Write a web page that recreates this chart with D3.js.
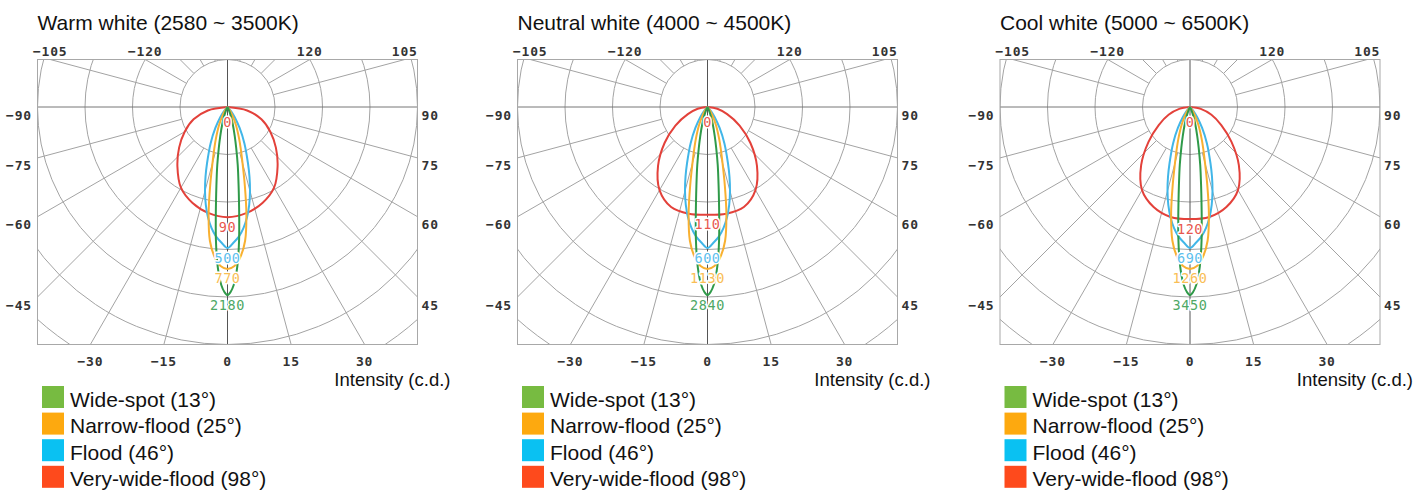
<!DOCTYPE html>
<html>
<head>
<meta charset="utf-8">
<script src="https://cdn.jsdelivr.net/npm/d3@7"></script>
<style>
  body { margin: 0; background: #fff; }
  svg text { font-family: "Liberation Sans", Arial, sans-serif; fill: #111; }
  svg text.tick { font-family: "DejaVu Sans Mono", monospace; font-size: 13px; font-weight: bold; letter-spacing: 0.8px; fill: #333; }
  svg text.val { font-family: "DejaVu Sans Mono", monospace; font-size: 13.5px; letter-spacing: 0.6px; stroke: #fff; stroke-width: 3px; paint-order: stroke; stroke-linejoin: round; }
</style>
</head>
<body>
<svg id="chart" width="1426" height="491"></svg>
<script>
// panel titles and legend entries
const panelTitles = ["Warm white (2580 ~ 3500K)", "Neutral white (4000 ~ 4500K)", "Cool white (5000 ~ 6500K)"];
const beamNames = ["Wide-spot (13°)", "Narrow-flood (25°)", "Flood (46°)", "Very-wide-flood (98°)"];
const legendColors = ["#77bb41", "#fda90f", "#0ac1f2", "#fe4a1c"];
const lineColors = ["#2f9a49", "#f8b031", "#41b6e8", "#e3413a"];
const labelColors = ["#4ea865", "#f9be55", "#5cc0ee", "#e8574f"];

// peak intensity (c.d.) for each beam, per panel
const warmPeaks = [2180, 770, 500, 90];
const neutralPeaks = [2840, 1130, 600, 110];
const coolPeaks = [3450, 1260, 690, 120];

// beam profiles: angle from nadir (deg) -> radius in grid rings
const spotAngles = [0, 1, 2, 3, 4, 5, 6, 7, 8, 10, 12, 14, 17, 20, 25, 30];
const spotRings = [3.96, 3.89, 3.75, 3.52, 3.20, 2.80, 2.36, 1.98, 1.68, 1.24, 0.88, 0.63, 0.38, 0.21, 0.06, 0];
const narrowAngles = [0, 2.5, 5, 7.5, 10, 12.5, 15, 17.5, 20, 25, 30, 35, 40];
const narrowRings = [3.41, 3.35, 3.16, 2.84, 2.29, 1.68, 1.22, 0.93, 0.72, 0.42, 0.21, 0.08, 0];
const floodAngles = [0, 2.5, 5, 7.5, 10, 12.5, 15, 17.5, 20, 25, 30, 35, 40, 45, 50];
const floodRings = [2.97, 2.86, 2.74, 2.57, 2.36, 2.11, 1.83, 1.54, 1.26, 0.84, 0.51, 0.27, 0.13, 0.04, 0];
const wideAngles = [0, 10, 20, 30, 40, 50, 60, 70, 80, 90];
const warmWide = [2.32, 2.27, 2.15, 1.96, 1.64, 1.33, 1.04, 0.76, 0.42, 0];
const neutralWide = [2.27, 2.28, 2.24, 2.02, 1.62, 1.18, 0.78, 0.44, 0.21, 0];
const coolWide = [2.36, 2.35, 2.24, 2.02, 1.60, 1.14, 0.76, 0.48, 0.23, 0];

// angle tick labels
const topTicks = [-105, -120, 120, 105];
const sideTicks = [-90, -75, -60, -45, 90, 75, 60, 45];
const bottomTicks = [-30, -15, 0, 15, 30];
const gridRings = [1, 2, 3, 4, 5, 6];
const spokes = d3.range(-165, 180, 15).filter(a => a % 90 !== 0);

const panels = [
  { title: panelTitles[0], peaks: warmPeaks, wide: warmWide },
  { title: panelTitles[1], peaks: neutralPeaks, wide: neutralWide },
  { title: panelTitles[2], peaks: coolPeaks, wide: coolWide }
];

const ring = 47.5;
const centersX = [227.5, 707.5, 1190];
const cy = 107;

const svg = d3.select("#chart");

// 0 deg points down, positive angles to the right
const angle = d3.scaleLinear().domain([0, 180]).range([Math.PI, 0]);
const radius = d3.scaleLinear().domain([0, 1]).range([0, ring]);
const pt = (deg, rings) => d3.pointRadial(angle(deg), radius(rings));
const rad = d => d * Math.PI / 180;
const minus = d => String(d).replace("-", "\u2212");

const line = d3.lineRadial()
  .angle(d => angle(d[0]))
  .radius(d => radius(d[1]))
  .curve(d3.curveCatmullRom.alpha(0.5));

function mirrored(angles, rings) {
  const half = angles.map((a, i) => [a, rings[i]]);
  const other = half.slice(1).reverse().map(d => [-d[0], d[1]]);
  return other.concat(half);
}

const fx0 = radius(-4), fx1 = radius(4), fy0 = radius(-1), fy1 = radius(5);

panels.forEach((p, pi) => {
  const g = svg.append("g").attr("transform", `translate(${centersX[pi]},${cy})`);

  g.append("text")
    .attr("x", fx0).attr("y", 29.5 - cy)
    .style("font-size", "21px")
    .text(p.title);

  g.append("clipPath").attr("id", "clip" + pi)
    .append("rect")
    .attr("x", fx0).attr("y", fy0)
    .attr("width", fx1 - fx0).attr("height", fy1 - fy0);

  const grid = g.append("g").attr("clip-path", `url(#clip${pi})`)
    .attr("fill", "none").attr("stroke", "#a3a3a3").attr("stroke-width", 1);

  grid.selectAll("circle").data(gridRings).enter().append("circle")
    .attr("r", d => radius(d));

  grid.selectAll("line.spoke").data(spokes).enter().append("line")
    .attr("class", "spoke")
    .attr("x1", d => pt(d, 1)[0]).attr("y1", d => pt(d, 1)[1])
    .attr("x2", d => pt(d, 9)[0]).attr("y2", d => pt(d, 9)[1]);

  grid.append("line").attr("x1", fx0).attr("x2", fx1).attr("y1", 0).attr("y2", 0).attr("stroke", "#777");
  grid.append("line").attr("x1", 0).attr("x2", 0).attr("y1", fy0).attr("y2", fy1).attr("stroke", "#555");

  g.append("rect")
    .attr("x", fx0).attr("y", fy0)
    .attr("width", fx1 - fx0).attr("height", fy1 - fy0)
    .attr("fill", "none").attr("stroke", "#a8a8a8");

  // angle labels around the frame
  g.selectAll("text.top").data(topTicks).enter().append("text")
    .attr("class", "tick top")
    .attr("x", d => fy0 / Math.cos(rad(d)) * Math.sin(rad(d)))
    .attr("y", fy0 - 3.5)
    .attr("text-anchor", "middle")
    .text(minus);

  g.selectAll("text.side").data(sideTicks).enter().append("text")
    .attr("class", "tick side")
    .attr("x", d => d < 0 ? fx0 - 5.5 : fx1 + 4)
    .attr("y", d => fx1 / Math.abs(Math.sin(rad(d))) * Math.cos(rad(d)) + 12.5)
    .attr("text-anchor", d => d < 0 ? "end" : "start")
    .text(minus);

  g.selectAll("text.bottom").data(bottomTicks).enter().append("text")
    .attr("class", "tick bottom")
    .attr("x", d => fy1 / Math.cos(rad(d)) * Math.sin(rad(d)))
    .attr("y", fy1 + 21)
    .attr("text-anchor", "middle")
    .text(minus);

  g.append("text")
    .attr("x", fx1 + 33).attr("y", 386 - cy)
    .attr("text-anchor", "end")
    .style("font-size", "18.5px")
    .text("Intensity (c.d.)");

  // beam curves
  const shapes = [
    mirrored(spotAngles, spotRings),
    mirrored(narrowAngles, narrowRings),
    mirrored(floodAngles, floodRings),
    mirrored(wideAngles, p.wide)
  ];
  const peakRings = [spotRings[0], narrowRings[0], floodRings[0], p.wide[0]];

  g.selectAll("path.beam").data([3, 2, 1, 0]).enter().append("path")
    .attr("class", "beam")
    .attr("d", i => line(shapes[i]))
    .attr("fill", "none")
    .attr("stroke", i => lineColors[i])
    .attr("stroke-width", 2);

  g.append("text")
    .attr("class", "val")
    .attr("x", 0).attr("y", 20)
    .attr("text-anchor", "middle")
    .style("fill", labelColors[3])
    .text("0");

  g.selectAll("text.peak").data([0, 1, 2, 3]).enter().append("text")
    .attr("class", "val peak")
    .attr("x", 0)
    .attr("y", i => radius(peakRings[i]) + 14.5)
    .attr("text-anchor", "middle")
    .style("fill", i => labelColors[i])
    .text(i => p.peaks[i]);

  // legend
  const lg = g.append("g").attr("transform", `translate(${fx0 + 4.5},${386 - cy})`);
  const item = lg.selectAll("g").data(beamNames).enter().append("g")
    .attr("transform", (d, i) => `translate(0,${i * 26.6})`);
  item.append("rect").attr("width", 22).attr("height", 22)
    .attr("fill", (d, i) => legendColors[i]);
  item.append("text").attr("x", 28).attr("y", 20.5)
    .style("font-size", "21px")
    .text(d => d);
});
</script>
</body>
</html>
